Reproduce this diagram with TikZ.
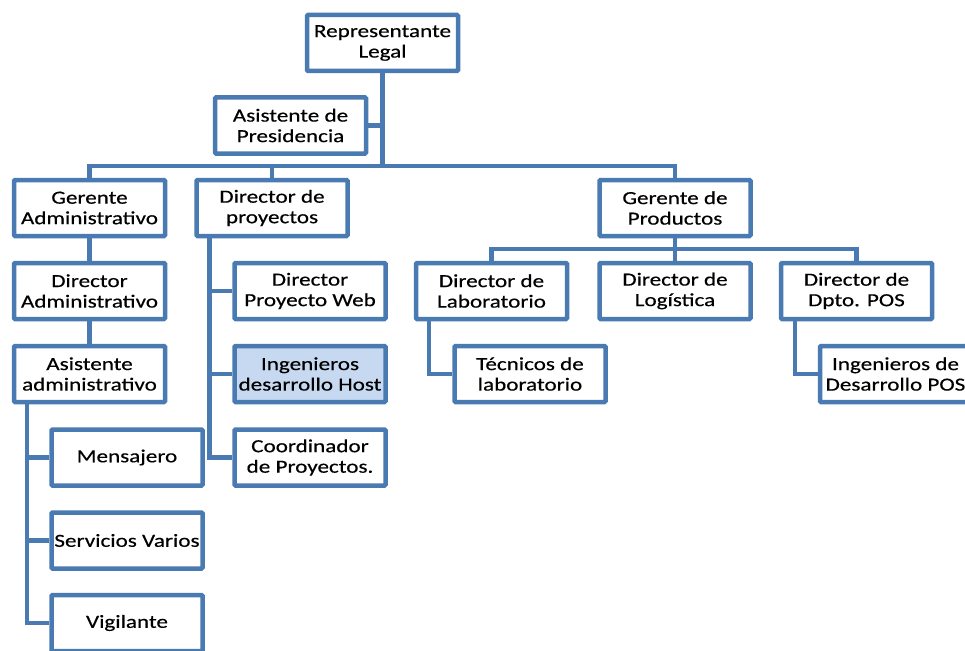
\documentclass[tikz,border=0pt]{standalone}
\usepackage{fontspec}
\setmainfont[FakeStretch=1.25,FakeBold=0.4]{Carlito}
\usetikzlibrary{backgrounds}
\definecolor{chartblue}{RGB}{74,122,178}
\definecolor{hostfill}{RGB}{198,217,241}
\tikzset{
  unit/.style={draw=chartblue, line width=4.5pt, fill=white,
    minimum width=151pt, minimum height=56pt, inner sep=0pt,
    align=center, rounded corners=1pt, text=black,
    font=\fontsize{18.5}{20.5}\selectfont},
  link/.style={draw=chartblue, line width=4.5pt},
}
\begin{document}
\begin{tikzpicture}[x=1pt,y=-1pt]
\useasboundingbox (0,0) rectangle (965,650);
\clip (0,0) rectangle (965,650);

% top of the chart
\node[unit] (rep)  at (382.5,43) {Representante\\Legal};
\node[unit] (asis) at (290.5,125.5)  {Asistente de\\Presidencia};

% second level
\node[unit] (ga) at (89.5,208) {Gerente\\Administrativo};
\node[unit] (dp) at (272,208)  {Director de\\proyectos};
\node[unit] (gp) at (675,208)  {Gerente de\\Productos};

% administration branch
\node[unit] (da)   at (89.5,291) {Director\\Administrativo};
\node[unit] (aa)   at (89.5,374) {Asistente\\administrativo};
\node[unit] (men)  at (127,457.5) {Mensajero};
\node[unit] (serv) at (127,540.5) {Servicios Varios};
\node[unit] (vig)  at (127,623)   {Vigilante};

% projects branch
\node[unit] (web)   at (310,291)   {Director\\Proyecto Web};
\node[unit, fill=hostfill] (host) at (310,374) {Ingenieros\\desarrollo Host};
\node[unit] (coord) at (310,457.5) {Coordinador\\de Proyectos.};

% products branch
\node[unit] (dl)     at (491.5,291) {Director de\\Laboratorio};
\node[unit] (dlog)   at (675,291)   {Director de\\Logística};
\node[unit] (dpos)   at (856.5,291) {Director de\\Dpto. POS};
\node[unit] (tec)    at (530,374)   {Técnicos de\\laboratorio};
\node[unit] (ingpos) at (895.5,374) {Ingenieros de\\Desarrollo POS};

\coordinate (bar)  at (0,166);
\coordinate (pbar) at (0,249);

\begin{scope}[on background layer]
  \draw[link] (rep.south) -- (rep.south |- bar);
  \draw[link] (asis.east) -- (asis.east -| rep.south);
  \draw[link] (ga.north) |- (gp.north |- bar) -- (gp.north);
  \draw[link] (dp.north) -- (dp.north |- bar);

  \draw[link] (ga.south) -- (da.north);
  \draw[link] (da.south) -- (aa.north);
  \draw[link] ([xshift=15]aa.south west) |- (men.west);
  \draw[link] ([xshift=15]aa.south west) |- (serv.west);
  \draw[link] ([xshift=15]aa.south west) |- (vig.west);

  \draw[link] ([xshift=15]dp.south west) |- (web.west);
  \draw[link] ([xshift=15]dp.south west) |- (host.west);
  \draw[link] ([xshift=15]dp.south west) |- (coord.west);

  \draw[link] (gp.south) -- (dlog.north);
  \draw[link] (dl.north) |- (dpos.north |- pbar) -- (dpos.north);
  \draw[link] ([xshift=15]dl.south west) |- (tec.west);
  \draw[link] ([xshift=16]dpos.south west) |- (ingpos.west);
\end{scope}
\end{tikzpicture}
\end{document}
